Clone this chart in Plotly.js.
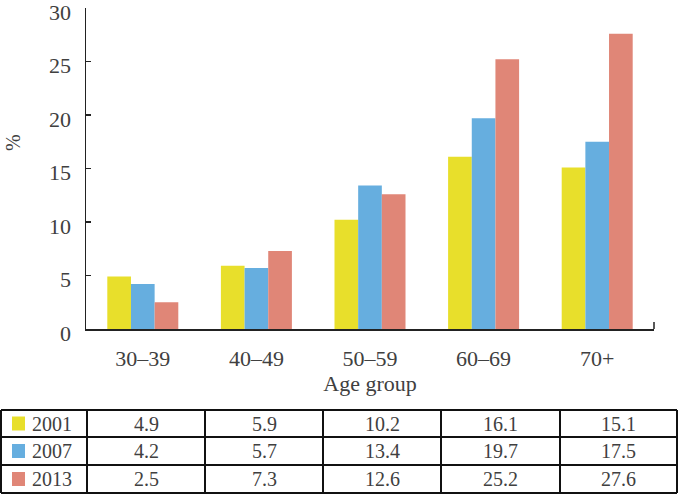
<!DOCTYPE html>
<html><head><meta charset="utf-8">
<script src="https://cdn.plot.ly/plotly-3.0.1.min.js"></script>
<style>html,body{margin:0;padding:0;background:#fff}</style>
</head><body><div id="chart" style="width:678px;height:494px"></div>
<script>
const categories = ["30–39", "40–49", "50–59", "60–69", "70+"];
const years = ["2001", "2007", "2013"];
const v2001 = [4.9, 5.9, 10.2, 16.1, 15.1];
const v2007 = [4.2, 5.7, 13.4, 19.7, 17.5];
const v2013 = [2.5, 7.3, 12.6, 25.2, 27.6];
const series = [v2001, v2007, v2013];
const colors = ["#E8DF2B", "#66AEDF", "#E08677"];

const W = 678, H = 494;
const L = 86, R = 654, T = 8, B = 329;
const px = x => (x - L) / (R - L);
const py = y => (B - y) / (B - T);
const textColor = "#404040";
const font = "Liberation Serif, Times New Roman, serif";

const traces = series.map((vals, i) => ({
  type: "bar", x: categories, y: vals, name: years[i],
  marker: {color: colors[i], line: {width: 0}}, hoverinfo: "skip"
}));

const shapes = [];
const annotations = [];
// right end tick of x axis
shapes.push({type: "line", xref: "paper", yref: "paper", x0: 1, x1: 1, y0: 0, y1: py(322), line: {color: "#222", width: 1.5}});
// y axis title
annotations.push({xref: "paper", yref: "paper", x: px(13), y: py(143), text: "%", textangle: -90, showarrow: false, xanchor: "center", yanchor: "middle", font: {family: font, size: 20, color: textColor}});
// table grid
const rowsY = [410, 437, 465, 493];
const colsX = [1, 87, 205, 323, 441, 560, 677];
rowsY.forEach(y => shapes.push({type: "line", xref: "paper", yref: "paper", x0: px(colsX[0]), x1: px(colsX[colsX.length-1]), y0: py(y), y1: py(y), line: {color: "#111", width: 2}}));
colsX.forEach(x => shapes.push({type: "line", xref: "paper", yref: "paper", x0: px(x), x1: px(x), y0: py(rowsY[0]), y1: py(rowsY[rowsY.length-1]), line: {color: "#111", width: 2}}));
series.forEach((vals, r) => {
  const yc = (rowsY[r] + rowsY[r+1]) / 2;
  shapes.push({type: "rect", xref: "paper", yref: "paper", x0: px(12), x1: px(25), y0: py(yc - 7), y1: py(yc + 7), fillcolor: colors[r], line: {width: 0}});
  annotations.push({xref: "paper", yref: "paper", x: px(52), y: py(yc), text: years[r], showarrow: false, xanchor: "center", yanchor: "middle", font: {family: font, size: 20, color: textColor}});
  vals.forEach((v, c) => {
    annotations.push({xref: "paper", yref: "paper", x: px((colsX[c+1] + colsX[c+2]) / 2), y: py(yc), text: v.toFixed(1), showarrow: false, xanchor: "center", yanchor: "middle", font: {family: font, size: 20, color: textColor}});
  });
});

const layout = {
  width: W, height: H,
  margin: {l: L, r: W - R, t: T, b: H - B},
  paper_bgcolor: "#fff", plot_bgcolor: "#fff",
  barmode: "group", bargap: 0.375, bargroupgap: 0,
  showlegend: false,
  font: {family: font, color: textColor},
  xaxis: {
    type: "category", showline: true, linecolor: "#222", linewidth: 1.5,
    ticks: "", showgrid: false, zeroline: false,
    tickfont: {family: font, size: 22, color: textColor},
    ticklabelstandoff: 9,
    title: {text: "Age group", font: {family: font, size: 22, color: textColor}, standoff: 4}
  },
  yaxis: {
    range: [0, 30], tickvals: [0, 5, 10, 15, 20, 25, 30], showline: true, linecolor: "#222", linewidth: 1.5,
    ticks: "inside", ticklen: 5, tickcolor: "#222", tickwidth: 1.5,
    showgrid: false, zeroline: false, automargin: false,
    ticklabeloverflow: "allow",
    tickfont: {family: font, size: 22, color: textColor},
    ticklabelstandoff: 9, ticklabelshift: 4
  },
  shapes: shapes, annotations: annotations
};
Plotly.newPlot("chart", traces, layout, {staticPlot: true, displayModeBar: false});
</script></body></html>
